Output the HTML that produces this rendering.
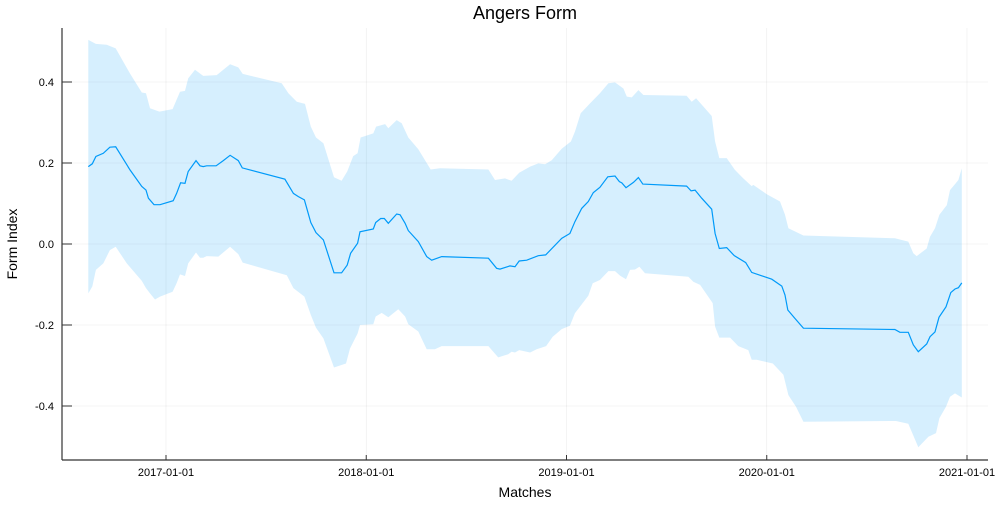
<!DOCTYPE html>
<html><head><meta charset="utf-8"><style>
html,body{margin:0;padding:0;background:#fff;}
svg text{font-family:"Liberation Sans","DejaVu Sans",sans-serif;fill:#000;}
</style></head><body>
<svg id="chart" width="1000" height="500" viewBox="0 0 1000 500" xmlns="http://www.w3.org/2000/svg">
<text x="525" y="19" font-size="18" text-anchor="middle">Angers Form</text>
<text x="525" y="497" font-size="14" text-anchor="middle">Matches</text>
<text x="0" y="0" font-size="14" text-anchor="middle" transform="translate(17,244) rotate(-90)">Form Index</text>
<g id="grid"></g>
<g id="band"></g>
<g id="line"></g>
<g id="axes"></g>
</svg>
<script>
const xTickLabels = ["2017-01-01","2018-01-01","2019-01-01","2020-01-01","2021-01-01"];
const xTickYears = [2017,2018,2019,2020,2021];
const yTickValues = [-0.4,-0.2,0.0,0.2,0.4];
const yTickLabels = ["-0.4","-0.2","0.0","0.2","0.4"];

const meanYears = [2016.612,2016.632,2016.650,2016.687,2016.720,2016.749,2016.820,2016.879,2016.900,2016.912,2016.940,2016.970,2017.036,2017.053,2017.073,2017.095,2017.111,2017.150,2017.170,2017.186,2017.203,2017.250,2017.286,2017.320,2017.361,2017.381,2017.594,2017.636,2017.661,2017.691,2017.723,2017.749,2017.786,2017.839,2017.877,2017.905,2017.922,2017.957,2017.969,2018.035,2018.047,2018.072,2018.090,2018.110,2018.152,2018.169,2018.194,2018.210,2018.260,2018.302,2018.327,2018.377,2018.610,2018.651,2018.668,2018.718,2018.743,2018.764,2018.801,2018.859,2018.896,2018.976,2019.017,2019.042,2019.076,2019.109,2019.134,2019.167,2019.206,2019.242,2019.264,2019.276,2019.297,2019.334,2019.359,2019.381,2019.600,2019.622,2019.642,2019.675,2019.725,2019.742,2019.763,2019.800,2019.838,2019.895,2019.925,2020.025,2020.075,2020.091,2020.105,2020.141,2020.183,2020.640,2020.665,2020.707,2020.732,2020.757,2020.799,2020.815,2020.840,2020.860,2020.895,2020.919,2020.940,2020.957,2020.974];
const meanValues = [0.191,0.198,0.216,0.224,0.239,0.240,0.183,0.142,0.133,0.113,0.097,0.097,0.107,0.125,0.151,0.150,0.179,0.206,0.193,0.191,0.193,0.193,0.206,0.219,0.206,0.188,0.160,0.125,0.117,0.109,0.053,0.028,0.010,-0.071,-0.071,-0.052,-0.023,0.002,0.030,0.037,0.053,0.063,0.063,0.051,0.074,0.072,0.051,0.033,0.006,-0.031,-0.040,-0.031,-0.035,-0.060,-0.062,-0.054,-0.056,-0.042,-0.040,-0.029,-0.027,0.014,0.026,0.055,0.088,0.105,0.127,0.140,0.166,0.168,0.154,0.151,0.139,0.152,0.164,0.148,0.143,0.131,0.133,0.113,0.086,0.026,-0.011,-0.009,-0.029,-0.046,-0.070,-0.087,-0.104,-0.126,-0.163,-0.184,-0.208,-0.211,-0.218,-0.218,-0.249,-0.266,-0.247,-0.229,-0.217,-0.181,-0.155,-0.120,-0.111,-0.108,-0.096];

const upperYears = [2016.612,2016.650,2016.704,2016.749,2016.787,2016.820,2016.879,2016.900,2016.920,2016.967,2017.033,2017.070,2017.095,2017.111,2017.145,2017.186,2017.253,2017.286,2017.320,2017.361,2017.383,2017.578,2017.611,2017.653,2017.694,2017.723,2017.749,2017.786,2017.839,2017.877,2017.905,2017.935,2017.957,2017.972,2018.035,2018.049,2018.094,2018.110,2018.152,2018.177,2018.210,2018.260,2018.322,2018.368,2018.610,2018.643,2018.693,2018.726,2018.764,2018.818,2018.859,2018.893,2018.926,2018.976,2019.022,2019.042,2019.071,2019.117,2019.167,2019.209,2019.242,2019.284,2019.301,2019.326,2019.359,2019.384,2019.600,2019.625,2019.647,2019.725,2019.742,2019.763,2019.800,2019.841,2019.883,2019.925,2019.933,2020.000,2020.066,2020.091,2020.108,2020.183,2020.640,2020.707,2020.732,2020.749,2020.799,2020.815,2020.840,2020.862,2020.899,2020.915,2020.940,2020.957,2020.974];
const upperValues = [0.504,0.494,0.492,0.483,0.450,0.421,0.374,0.372,0.335,0.327,0.333,0.376,0.378,0.409,0.430,0.415,0.417,0.430,0.444,0.436,0.420,0.397,0.372,0.351,0.346,0.290,0.263,0.249,0.165,0.156,0.179,0.217,0.224,0.263,0.273,0.290,0.296,0.286,0.306,0.298,0.263,0.234,0.184,0.187,0.184,0.158,0.162,0.156,0.176,0.191,0.199,0.197,0.207,0.235,0.253,0.277,0.323,0.347,0.372,0.397,0.399,0.384,0.364,0.362,0.380,0.368,0.366,0.351,0.360,0.316,0.253,0.212,0.212,0.183,0.162,0.143,0.146,0.123,0.105,0.072,0.039,0.021,0.014,0.006,-0.023,-0.030,-0.011,0.018,0.039,0.072,0.096,0.133,0.148,0.158,0.187];

const lowerYears = [2016.612,2016.632,2016.650,2016.687,2016.720,2016.749,2016.804,2016.879,2016.900,2016.920,2016.945,2016.970,2017.033,2017.053,2017.070,2017.095,2017.111,2017.150,2017.170,2017.186,2017.203,2017.261,2017.320,2017.361,2017.383,2017.603,2017.636,2017.691,2017.723,2017.749,2017.786,2017.839,2017.899,2017.919,2017.957,2017.969,2018.035,2018.047,2018.077,2018.110,2018.160,2018.194,2018.210,2018.260,2018.302,2018.343,2018.377,2018.610,2018.659,2018.709,2018.726,2018.743,2018.764,2018.818,2018.851,2018.898,2018.931,2018.976,2019.017,2019.042,2019.067,2019.109,2019.131,2019.167,2019.209,2019.242,2019.267,2019.297,2019.317,2019.342,2019.364,2019.392,2019.608,2019.633,2019.667,2019.730,2019.742,2019.763,2019.817,2019.858,2019.908,2019.925,2019.950,2020.030,2020.083,2020.108,2020.146,2020.183,2020.645,2020.707,2020.757,2020.807,2020.845,2020.862,2020.895,2020.915,2020.940,2020.974];
const lowerValues = [-0.122,-0.105,-0.064,-0.048,-0.015,-0.007,-0.048,-0.091,-0.109,-0.122,-0.137,-0.130,-0.118,-0.097,-0.075,-0.079,-0.048,-0.021,-0.034,-0.034,-0.030,-0.031,-0.007,-0.025,-0.046,-0.077,-0.109,-0.130,-0.175,-0.207,-0.233,-0.305,-0.295,-0.258,-0.221,-0.200,-0.198,-0.179,-0.170,-0.181,-0.161,-0.179,-0.198,-0.216,-0.260,-0.260,-0.252,-0.252,-0.280,-0.272,-0.266,-0.268,-0.262,-0.268,-0.260,-0.252,-0.229,-0.210,-0.202,-0.171,-0.155,-0.128,-0.097,-0.089,-0.067,-0.067,-0.078,-0.087,-0.064,-0.063,-0.056,-0.072,-0.081,-0.093,-0.101,-0.146,-0.204,-0.231,-0.231,-0.252,-0.262,-0.286,-0.286,-0.295,-0.323,-0.373,-0.402,-0.439,-0.437,-0.444,-0.502,-0.476,-0.467,-0.430,-0.402,-0.377,-0.369,-0.379];

const NS = "http://www.w3.org/2000/svg";
const plot = {left:62, right:988, top:28, bottom:460};
function xScale(yr){ return 166 + (yr - 2017) * 200.25; }
function yScale(v){ return 244 - v * 405; }
function mk(tag, parent){ const e = document.createElementNS(NS, tag); parent.appendChild(e); return e; }

const grid = document.getElementById('grid');
const axes = document.getElementById('axes');
xTickYears.forEach((yr, i) => {
  const x = xScale(yr);
  const g = mk('line', grid);
  
  
  g.setAttribute('x1', x); g.setAttribute('x2', x); g.setAttribute('y1', plot.top); g.setAttribute('y2', plot.bottom);
  g.setAttribute('stroke', '#000'); g.setAttribute('stroke-opacity', '0.08'); g.setAttribute('stroke-width', '0.6');
  const t = mk('line', axes);
  
  
  t.setAttribute('x1', x); t.setAttribute('x2', x); t.setAttribute('y1', plot.bottom); t.setAttribute('y2', plot.bottom - 5);
  t.setAttribute('stroke', '#333'); t.setAttribute('stroke-width', '1');
  const l = mk('text', axes);
  
  
  l.setAttribute('x', x); l.setAttribute('y', plot.bottom + 16);
  l.setAttribute('font-size', '11'); l.setAttribute('text-anchor', 'middle');
  l.textContent = xTickLabels[i];
});
yTickValues.forEach((v, i) => {
  const y = yScale(v);
  const g = mk('line', grid);
  
  
  g.setAttribute('x1', plot.left); g.setAttribute('x2', plot.right); g.setAttribute('y1', y); g.setAttribute('y2', y);
  g.setAttribute('stroke', '#000'); g.setAttribute('stroke-opacity', '0.08'); g.setAttribute('stroke-width', '0.6');
  const t = mk('line', axes);
  
  
  t.setAttribute('x1', plot.left); t.setAttribute('x2', plot.left + 10); t.setAttribute('y1', y); t.setAttribute('y2', y);
  t.setAttribute('stroke', '#333'); t.setAttribute('stroke-width', '1');
  const l = mk('text', axes);
  
  
  l.setAttribute('x', plot.left - 8); l.setAttribute('y', y + 4);
  l.setAttribute('font-size', '11'); l.setAttribute('text-anchor', 'end');
  l.textContent = yTickLabels[i];
});
const ax1 = mk('line', axes);


ax1.setAttribute('x1', plot.left); ax1.setAttribute('x2', plot.left); ax1.setAttribute('y1', plot.top); ax1.setAttribute('y2', plot.bottom);
ax1.setAttribute('stroke', '#333'); ax1.setAttribute('stroke-width', '1.2');
const ax2 = mk('line', axes);


ax2.setAttribute('x1', plot.left); ax2.setAttribute('x2', plot.right); ax2.setAttribute('y1', plot.bottom); ax2.setAttribute('y2', plot.bottom);
ax2.setAttribute('stroke', '#333'); ax2.setAttribute('stroke-width', '1.2');

// band
let pts = [];
for (let i = 0; i < Math.min(upperYears.length, upperValues.length); i++) pts.push(xScale(upperYears[i]).toFixed(1) + ',' + yScale(upperValues[i]).toFixed(1));
for (let i = Math.min(lowerYears.length, lowerValues.length) - 1; i >= 0; i--) pts.push(xScale(lowerYears[i]).toFixed(1) + ',' + yScale(lowerValues[i]).toFixed(1));
const band = mk('polygon', document.getElementById('band'));


band.setAttribute('points', pts.join(' '));
band.setAttribute('fill', '#009af9'); band.setAttribute('fill-opacity', '0.16');

// mean line
let lp = [];
for (let i = 0; i < Math.min(meanYears.length, meanValues.length); i++) lp.push(xScale(meanYears[i]).toFixed(1) + ',' + yScale(meanValues[i]).toFixed(1));
const line = mk('polyline', document.getElementById('line'));


line.setAttribute('points', lp.join(' '));
line.setAttribute('fill', 'none'); line.setAttribute('stroke', '#009af9'); line.setAttribute('stroke-width', '1.2');
</script>
</body></html>
